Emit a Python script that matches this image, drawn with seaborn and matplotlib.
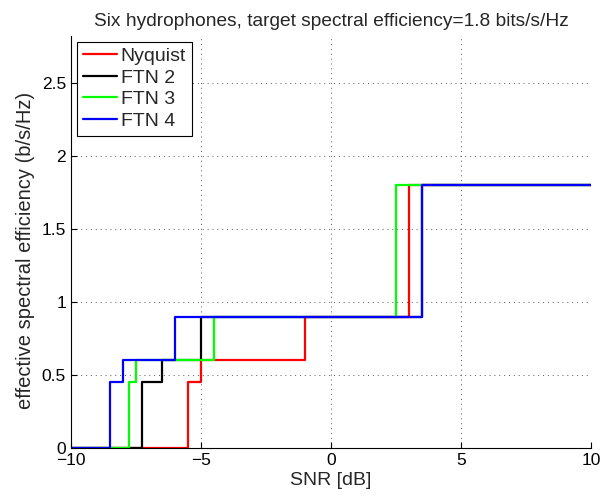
import matplotlib
matplotlib.use('Agg')
import matplotlib.pyplot as plt
import seaborn as sns
import pandas as pd

# step points (SNR in dB, efficiency in b/s/Hz), drawn as steps-post
nyq_x = [-10, -5.5, -5, -1, 3, 10]
nyq_y = [0, 0.45, 0.6, 0.9, 1.8, 1.8]
ftn2_x = [-10, -7.25, -6.5, -5, 3.5, 10]
ftn2_y = [0, 0.45, 0.6, 0.9, 1.8, 1.8]
ftn3_x = [-10, -7.75, -7.5, -4.5, 2.5, 10]
ftn3_y = [0, 0.45, 0.6, 0.9, 1.8, 1.8]
ftn4_x = [-10, -8.5, -8, -6, 3.5, 10]
ftn4_y = [0, 0.45, 0.6, 0.9, 1.8, 1.8]

names = ['Nyquist', 'FTN 2', 'FTN 3', 'FTN 4']
colors = ['#ff0000', '#000000', '#00ff00', '#0000ff']

frames = []
for name, xs, ys in zip(names, [nyq_x, ftn2_x, ftn3_x, ftn4_x],
                        [nyq_y, ftn2_y, ftn3_y, ftn4_y]):
    frames.append(pd.DataFrame({'snr': xs, 'eff': ys, 'scheme': name}))
df = pd.concat(frames, ignore_index=True)

sns.set_style('ticks')
plt.rcParams['font.family'] = ['Liberation Sans', 'DejaVu Sans']

fig = plt.figure(figsize=(6.15, 4.96), dpi=100)
ax = fig.add_axes([0.1154, 0.0968, 0.8455, 0.8306])

# draw each series separately so the drawing order is kept
for name, col in zip(names, colors):
    sns.lineplot(data=df[df.scheme == name], x='snr', y='eff', color=col,
                 drawstyle='steps-post', linewidth=1.6, ax=ax, label=name,
                 estimator=None, sort=False)

ax.set_xlim(-10, 10)
ax.set_ylim(0, 2.82)
ax.set_xticks([-10, -5, 0, 5, 10])
ax.set_xticklabels(['\u221210', '\u22125', '0', '5', '10'])
ax.set_yticks([0, 0.5, 1, 1.5, 2, 2.5])
ax.set_yticklabels(['0', '0.5', '1', '1.5', '2', '2.5'])
ax.grid(True, linestyle=(0, (1, 4)), color='0.35', linewidth=0.7)
ax.tick_params(direction='in', length=4, labelsize=12.5, colors='black')
for s in ['top', 'right']:
    ax.spines[s].set_visible(False)
for s in ['left', 'bottom']:
    ax.spines[s].set_color('black')
    ax.spines[s].set_linewidth(0.8)

ax.set_xlabel('SNR [dB]', fontsize=14, labelpad=3)
ax.set_ylabel('effective spectral efficiency (b/s/Hz)', fontsize=14.5)
ax.yaxis.set_label_coords(-0.07, 0.48)
ax.set_title('Six hydrophones, target spectral efficiency=1.8 bits/s/Hz',
             fontsize=13.8, pad=7)

leg = ax.legend(loc='upper left', fontsize=14, frameon=True, fancybox=False,
                borderpad=0.3, handlelength=1.75, handletextpad=0.2,
                labelspacing=0.2, borderaxespad=0.3)
leg.get_frame().set_edgecolor('black')
leg.get_frame().set_linewidth(0.8)
leg.get_frame().set_alpha(1)

fig.savefig('out.png', dpi=100)
